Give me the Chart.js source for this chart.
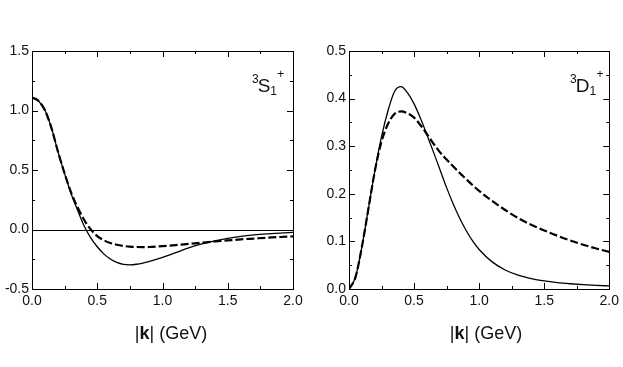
<!DOCTYPE html>
<html>
<head>
<meta charset="utf-8">
<script src="https://cdn.jsdelivr.net/npm/chart.js@4"></script>
<style>
  body { margin: 0; background: #fff; }
  #wrap { position: relative; width: 623px; height: 367px; }
  .panel { position: absolute; top: 0; }
</style>
</head>
<body>
<div id="wrap">
  <div class="panel" style="left:0"><canvas id="chartS" width="310" height="367"></canvas></div>
  <div class="panel" style="left:310px"><canvas id="chartD" width="313" height="367"></canvas></div>
</div>
<script>
// momentum grid |k| in GeV
const momentum = [0, 0.05, 0.1, 0.15, 0.2, 0.25, 0.3, 0.35, 0.4, 0.45, 0.5, 0.55, 0.6, 0.65, 0.7, 0.75, 0.8, 0.85, 0.9, 0.95, 1.0,
                  1.1, 1.2, 1.3, 1.4, 1.5, 1.6, 1.7, 1.8, 1.9, 2.0];

// 3S1+ panel
const sWaveSolid  = [1.11, 1.08, 1.0, 0.85, 0.65, 0.47, 0.30, 0.16, 0.03, -0.07, -0.145, -0.205, -0.248, -0.277, -0.293, -0.297, -0.292, -0.282, -0.268, -0.252, -0.235,
                     -0.195, -0.155, -0.121, -0.095, -0.074, -0.058, -0.046, -0.037, -0.030, -0.024];
const sWaveDashed = [1.11, 1.08, 1.0, 0.85, 0.65, 0.47, 0.31, 0.185, 0.08, 0.0, -0.055, -0.09, -0.113, -0.128, -0.138, -0.144, -0.147, -0.148, -0.147, -0.144, -0.14,
                     -0.131, -0.121, -0.111, -0.101, -0.092, -0.083, -0.076, -0.069, -0.063, -0.058];

// 3D1+ panel
const dWaveSolid  = [0, 0.025, 0.09, 0.17, 0.25, 0.32, 0.375, 0.415, 0.425, 0.412, 0.389, 0.358, 0.323, 0.287, 0.25, 0.213, 0.179, 0.149, 0.123, 0.101, 0.083,
                     0.057, 0.04, 0.029, 0.022, 0.017, 0.0135, 0.011, 0.009, 0.0075, 0.0065];
const dWaveDashed = [0, 0.025, 0.09, 0.17, 0.25, 0.31, 0.347, 0.368, 0.373, 0.369, 0.36, 0.344, 0.325, 0.305, 0.287, 0.272, 0.258, 0.244, 0.231, 0.218, 0.206,
                     0.185, 0.166, 0.149, 0.135, 0.123, 0.112, 0.102, 0.093, 0.085, 0.078];

const xTicks = [0, 0.5, 1.0, 1.5, 2.0];
const sTicks = [-0.5, 0.0, 0.5, 1.0, 1.5];
const dTicks = [0.0, 0.1, 0.2, 0.3, 0.4, 0.5];

const FONT = '"Liberation Sans", Arial, sans-serif';

function pts(ys) {
    return momentum.map((k, i) => ({ x: k, y: ys[i] }));
}

// frame, inward ticks, zero line, labels
const decor = {
    id: 'decor',
    afterDraw(chart, args, o) {
        const { ctx, chartArea: a, scales: { x, y } } = chart;
        ctx.save();
        ctx.strokeStyle = '#000';
        ctx.lineWidth = 1;

        if (o.zeroLine) {
            const y0 = Math.round(y.getPixelForValue(0)) + 0.5;
            ctx.beginPath();
            ctx.moveTo(a.left, y0);
            ctx.lineTo(a.right, y0);
            ctx.stroke();
        }

        ctx.strokeRect(Math.round(a.left) + 0.5, Math.round(a.top) + 0.5,
                       Math.round(a.right - a.left), Math.round(a.bottom - a.top));

        ctx.beginPath();
        for (let v = x.min; v <= x.max + 1e-9; v += o.xMinor) {
            const px = Math.round(x.getPixelForValue(v)) + 0.5;
            const major = Math.abs(v / o.xMajor - Math.round(v / o.xMajor)) < 1e-6;
            const len = major ? 6 : 3;
            ctx.moveTo(px, a.bottom); ctx.lineTo(px, a.bottom - len);
            ctx.moveTo(px, a.top); ctx.lineTo(px, a.top + len);
        }
        for (let v = y.min; v <= y.max + 1e-9; v += o.yMinor) {
            const py = Math.round(y.getPixelForValue(v)) + 0.5;
            const major = Math.abs(v / o.yMajor - Math.round(v / o.yMajor)) < 1e-6;
            const len = major ? 6 : 3;
            ctx.moveTo(a.left, py); ctx.lineTo(a.left + len, py);
            ctx.moveTo(a.right, py); ctx.lineTo(a.right - len, py);
        }
        ctx.stroke();

        // axis title |k| (GeV) with bold k
        ctx.fillStyle = '#111';
        ctx.textBaseline = 'alphabetic';
        const parts = [['|', 'normal'], ['k', 'bold'], ['| (GeV)', 'normal']];
        let w = 0;
        parts.forEach(p => { ctx.font = p[1] + ' 18px ' + FONT; w += ctx.measureText(p[0]).width; });
        let tx = o.titleX - w / 2;
        parts.forEach(p => {
            ctx.font = p[1] + ' 18px ' + FONT;
            ctx.fillText(p[0], tx, 339);
            tx += ctx.measureText(p[0]).width;
        });

        // state label, e.g. 3S1+
        const L = o.state;
        ctx.font = '12px ' + FONT;
        ctx.fillText('3', L.x, 83);
        let lx = L.x + ctx.measureText('3').width - 1;
        ctx.font = '19px ' + FONT;
        ctx.fillText(L.letter, lx, 92);
        lx += ctx.measureText(L.letter).width;
        ctx.font = '12px ' + FONT;
        ctx.fillText('1', lx, 95);
        ctx.fillText('+', lx + 7, 78);
        ctx.restore();
    }
};

function makeChart(id, solid, dashed, yTicks, opts) {
    const ctx = document.getElementById(id).getContext('2d');
    return new Chart(ctx, {
        type: 'line',
        data: {
            datasets: [{
                data: pts(dashed),
                borderColor: '#000',
                borderWidth: 2.2,
                borderDash: [8, 3],
                pointRadius: 0,
                cubicInterpolationMode: 'monotone'
            }, {
                data: pts(solid),
                borderColor: '#000',
                borderWidth: 1.3,
                pointRadius: 0,
                cubicInterpolationMode: 'monotone'
            }]
        },
        options: {
            responsive: false,
            animation: false,
            layout: { padding: { top: 51, right: opts.padRight, left: 0, bottom: 0 } },
            plugins: {
                legend: { display: false },
                tooltip: { enabled: false },
                decor: opts.decor
            },
            scales: {
                x: {
                    type: 'linear', min: 0, max: 2,
                    grid: { display: false, drawTicks: false },
                    border: { display: false },
                    afterBuildTicks: s => { s.ticks = xTicks.map(v => ({ value: v })); },
                    ticks: {
                        padding: 4, color: '#111', maxRotation: 0,
                        font: { family: FONT, size: 14 },
                        callback: v => v.toFixed(1)
                    },
                    afterFit: s => { s.height = 367 - 289; }
                },
                y: {
                    type: 'linear', min: yTicks[0], max: yTicks[yTicks.length - 1],
                    grid: { display: false, drawTicks: false },
                    border: { display: false },
                    afterBuildTicks: s => { s.ticks = yTicks.map(v => ({ value: v })); },
                    ticks: {
                        padding: 3, color: '#111',
                        font: { family: FONT, size: 14 },
                        callback: v => v.toFixed(1)
                    },
                    afterFit: s => { s.width = opts.yWidth; }
                }
            }
        },
        plugins: [decor]
    });
}

makeChart('chartS', sWaveSolid, sWaveDashed, sTicks, {
    padRight: 17, yWidth: 32,
    decor: { zeroLine: true, xMinor: 0.25, xMajor: 0.5, yMinor: 0.25, yMajor: 0.5,
             titleX: 171, state: { x: 252, letter: 'S' } }
});

makeChart('chartD', dWaveSolid, dWaveDashed, dTicks, {
    padRight: 11, yWidth: 39,
    decor: { zeroLine: false, xMinor: 0.25, xMajor: 0.5, yMinor: 0.05, yMajor: 0.1,
             titleX: 176, state: { x: 260, letter: 'D' } }
});
</script>
</body>
</html>
